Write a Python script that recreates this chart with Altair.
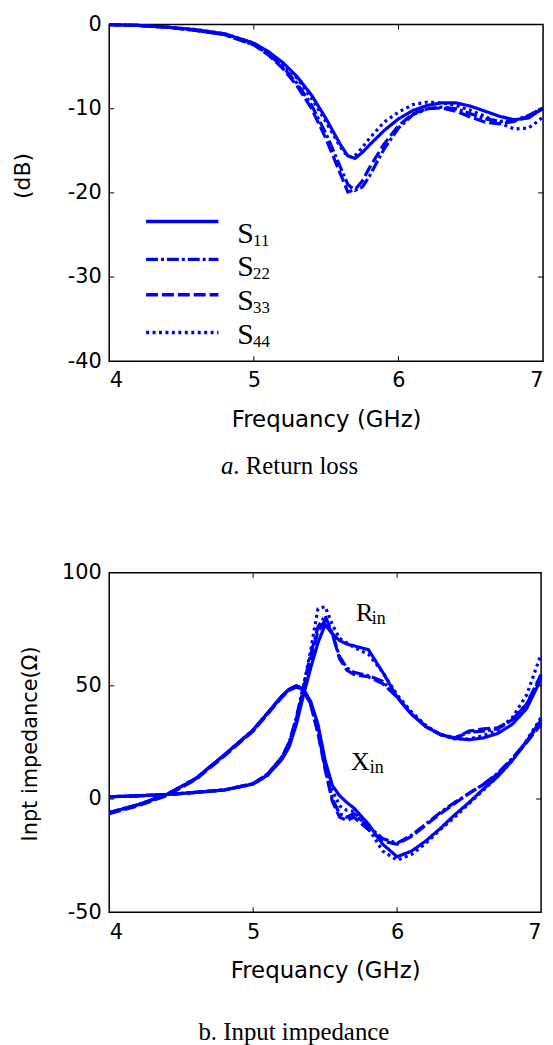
import altair as alt
import pandas as pd

# ---------------- data: return loss (dB) ----------------
freq_rl = [4.0, 4.2, 4.4, 4.6, 4.8, 5.0, 5.1, 5.2, 5.3, 5.4, 5.5, 5.6, 5.65, 5.7,
           5.75, 5.8, 5.9, 6.0, 6.1, 6.2, 6.3, 6.4, 6.5, 6.6, 6.7, 6.8, 6.9, 7.0]
s11 = [0, -0.1, -0.3, -0.6, -1.1, -2.2, -3.2, -4.5, -6.2, -8.4, -11.2, -14.3, -15.6, -15.9,
       -15.2, -14.3, -12.6, -11.2, -10.2, -9.6, -9.3, -9.3, -9.7, -10.3, -10.9, -11.3, -11.1, -9.9]
s22 = [0, -0.1, -0.3, -0.7, -1.2, -2.4, -3.5, -5.0, -7.0, -9.6, -13.0, -17.0, -19.0, -19.7,
       -19.3, -18.0, -14.8, -12.3, -10.7, -10.0, -9.8, -10.0, -10.6, -11.2, -11.5, -11.4, -10.8, -9.9]
s33 = [0, -0.1, -0.3, -0.7, -1.2, -2.4, -3.6, -5.2, -7.3, -10.0, -13.6, -17.8, -19.9, -19.6,
       -18.6, -17.0, -14.2, -12.0, -10.6, -10.0, -9.9, -10.3, -11.0, -11.6, -11.8, -11.5, -10.9, -10.0]
s44 = [0, -0.1, -0.3, -0.6, -1.1, -2.2, -3.3, -4.7, -6.4, -8.8, -11.6, -14.6, -15.7, -15.6,
       -14.6, -13.5, -11.6, -10.4, -9.5, -9.2, -9.3, -9.6, -10.2, -10.9, -11.7, -12.4, -12.3, -11.0]

# ---------------- data: input impedance (ohm) ----------------
freq_z = [4.0, 4.2, 4.4, 4.6, 4.8, 5.0, 5.1, 5.2, 5.25, 5.3, 5.35, 5.4, 5.45, 5.5, 5.55, 5.6,
          5.65, 5.7, 5.8, 5.9, 6.0, 6.1, 6.2, 6.3, 6.4, 6.5, 6.6, 6.7, 6.8, 6.9, 7.0]
r11 = [1.0, 1.4, 2.0, 2.9, 4.0, 6.6, 10.5, 17.5, 23, 33, 46, 58, 69, 77, 73, 70,
       68.5, 67.7, 66, 56, 45, 37.5, 32, 28.5, 26.8, 26.2, 27.0, 29.0, 33, 40, 53]
r22 = [1.0, 1.4, 2.0, 2.9, 4.0, 6.8, 11, 18.5, 25, 36, 50, 64, 76, 81, 73, 63,
       58, 56, 54.5, 52, 45, 37.5, 32, 28.5, 27, 29.5, 30, 31, 35, 42, 54]
r33 = [1.0, 1.4, 2.0, 2.9, 4.0, 6.8, 11, 18.5, 25, 35, 49, 62, 74, 79, 73, 62,
       57, 55, 54, 51, 45, 37.5, 32, 28.5, 27, 30, 31, 31.5, 35, 42, 55]
r44 = [1.0, 1.4, 2.0, 2.9, 4.0, 6.6, 10.5, 18, 24.5, 35, 50, 66, 84, 85, 77, 71,
       69, 67, 64, 56, 46, 38.5, 32.5, 28.5, 26.5, 26.5, 28, 30.5, 36, 46, 64]
x11 = [-6, -2.5, 2, 9, 19.5, 30.5, 38, 45.5, 48.5, 50, 48.5, 43, 33, 17, 6, 1.5,
       -1.5, -4, -11, -20, -25.5, -23, -18.5, -13, -7, -1.5, 4.5, 10, 17, 25.5, 35]
x22 = [-6, -2.5, 2, 9, 19.5, 30.5, 38, 45.5, 48.5, 50, 48, 42, 30, 14, 0, -6.5,
       -8, -6.5, -12, -17.5, -19.5, -16, -11, -6, -1.5, 2.5, 6.5, 11.5, 18, 25.5, 34]
x33 = [-6.5, -3, 1.5, 8.5, 19, 30, 37.5, 45, 48, 49.5, 48, 41.5, 29, 13, -1, -8,
       -9.5, -8, -13.5, -18.5, -20, -16.5, -11.5, -6.5, -2, 2.5, 6.5, 11, 17.5, 25, 33]
x44 = [-6, -2.5, 2, 9, 19.5, 30.5, 38, 45.5, 48.5, 50, 48.5, 42.5, 32, 16, 4, -3,
       -5, -5.5, -13, -23, -27, -24.5, -19.5, -13.5, -8, -2, 4, 10, 17, 26, 36]

ports = ["S11", "S22", "S33", "S44"]
legend_main = ["S", "S", "S", "S"]
legend_sub = ["11", "22", "33", "44"]
legend_line_y = [-23.4, -27.9, -32.1, -36.6]
legend_text_y = [-26.0, -29.9, -33.9, -38.0]
legend_x = [4.255, 4.755, 4.885]   # line start, line end, text start

z_label_main = ["R", "X"]
z_label_sub = ["in", "in"]
z_label_f = [5.714, 5.679]
z_label_v = [78.8, 12.8]

rl_xticks = [4, 5, 6, 7]
rl_yticks = [-40, -30, -20, -10, 0]
z_yticks = [-50, 0, 50, 100]
captions = ["a", ". Return loss", "b. Input impedance"]

BLUE = "#0000ff"
dash_styles = [[1, 0], [12, 3, 3, 3], [12, 4], [3, 3.5]]
dash_scale = alt.Scale(domain=ports, range=dash_styles)
SANS = "DejaVu Sans"
SERIF = "Liberation Serif"

W1, H1 = 437, 339
W2, H2 = 435, 342
TICK = 5

# ---------------- build tables ----------------
rl_rows = []
for name, vals in zip(ports, [s11, s22, s33, s44]):
    for f, v in zip(freq_rl, vals):
        rl_rows.append({"f": f, "v": v, "port": name})
rl_df = pd.DataFrame(rl_rows)

z_rows = []
for name, rv, xv in zip(ports, [r11, r22, r33, r44], [x11, x22, x33, x44]):
    for f, v in zip(freq_z, rv):
        z_rows.append({"f": f, "v": v, "port": name, "curve": name + "R"})
    for f, v in zip(freq_z, xv):
        z_rows.append({"f": f, "v": v, "port": name, "curve": name + "X"})
z_df = pd.DataFrame(z_rows)

leg_df = pd.DataFrame({
    "port": ports, "f": [legend_x[0]] * 4, "f2": [legend_x[1]] * 4,
    "v": legend_line_y,
})
leg_txt = pd.DataFrame({
    "f": [legend_x[2]] * 4, "v": legend_text_y, "main": legend_main, "sub": legend_sub,
})
zl_df = pd.DataFrame({"f": z_label_f, "v": z_label_v, "main": z_label_main, "sub": z_label_sub})

LABEL_EXPR = "'' + datum.value"


def panel(df, ydom, yvals, ytitle, ytitle_x, ytitle_y, ytitle_size, W, H, detail=None):
    xs = alt.Scale(domain=[4, 7], nice=False)
    ys = alt.Scale(domain=ydom, nice=False, zero=False)
    xax = alt.Axis(values=rl_xticks, labelExpr=LABEL_EXPR, title="Frequancy (GHz)",
                   labelPadding=9, titleY=48, titleFontSize=23)
    yax = alt.Axis(values=yvals, labelExpr=LABEL_EXPR, title=ytitle, labelPadding=8,
                   titleX=ytitle_x, titleY=ytitle_y, titleFontSize=ytitle_size,
                   titleAlign="center")
    enc = dict(
        x=alt.X("f:Q", scale=xs, axis=xax),
        y=alt.Y("v:Q", scale=ys, axis=yax),
        strokeDash=alt.StrokeDash("port:N", scale=dash_scale, legend=None),
    )
    if detail:
        enc["detail"] = alt.Detail(detail + ":N")
    lines = alt.Chart(df).mark_line(color=BLUE, strokeWidth=3.2).encode(**enc)

    xt = pd.DataFrame({"f": rl_xticks[1:-1]})
    yt = pd.DataFrame({"v": yvals[1:-1]})
    tick_b = alt.Chart(xt).mark_rule(color="black", strokeWidth=1).encode(
        x=alt.X("f:Q", scale=xs), y=alt.value(H), y2=alt.value(H - TICK))
    tick_t = alt.Chart(xt).mark_rule(color="black", strokeWidth=1).encode(
        x=alt.X("f:Q", scale=xs), y=alt.value(0), y2=alt.value(TICK))
    tick_l = alt.Chart(yt).mark_rule(color="black", strokeWidth=1).encode(
        y=alt.Y("v:Q", scale=ys), x=alt.value(0), x2=alt.value(TICK))
    tick_r = alt.Chart(yt).mark_rule(color="black", strokeWidth=1).encode(
        y=alt.Y("v:Q", scale=ys), x=alt.value(W), x2=alt.value(W - TICK))
    return lines, [tick_b, tick_t, tick_l, tick_r], xs, ys


# ---------------- top panel ----------------
lines1, ticks1, xs1, ys1 = panel(rl_df, [-40, 0], rl_yticks, "(dB)", -75, 152, 22, W1, H1)
leg_lines = alt.Chart(leg_df).mark_rule(color=BLUE, strokeWidth=3.5).encode(
    x=alt.X("f:Q", scale=xs1), x2="f2:Q", y=alt.Y("v:Q", scale=ys1),
    strokeDash=alt.StrokeDash("port:N", scale=dash_scale, legend=None))
leg_main = alt.Chart(leg_txt).mark_text(font=SERIF, fontSize=30, align="left",
                                         baseline="alphabetic", color="black").encode(
    x=alt.X("f:Q", scale=xs1), y=alt.Y("v:Q", scale=ys1), text="main:N")
leg_sub = alt.Chart(leg_txt).mark_text(font=SERIF, fontSize=17, align="left",
                                        baseline="alphabetic", color="black",
                                        dx=16, dy=3).encode(
    x=alt.X("f:Q", scale=xs1), y=alt.Y("v:Q", scale=ys1), text="sub:N")
cap_a1 = alt.Chart(pd.DataFrame({"t": [captions[0]]})).mark_text(
    font=SERIF, fontSize=25, fontStyle="italic", align="right", baseline="alphabetic",
    color="black").encode(x=alt.value(125), y=alt.value(453), text="t:N")
cap_a2 = alt.Chart(pd.DataFrame({"t": [captions[1]]})).mark_text(
    font=SERIF, fontSize=25, align="left", baseline="alphabetic",
    color="black").encode(x=alt.value(125), y=alt.value(453), text="t:N")

top = alt.layer(lines1, leg_lines, leg_main, leg_sub, *ticks1, cap_a1, cap_a2).properties(
    width=W1, height=H1)

# ---------------- bottom panel ----------------
lines2, ticks2, xs2, ys2 = panel(z_df, [-50, 100], z_yticks, "Inpt impedance(Ω)", -69, 172, 21,
                                 W2, H2, detail="curve")
zl_main = alt.Chart(zl_df).mark_text(font=SERIF, fontSize=26, align="left",
                                      baseline="alphabetic", color="black").encode(
    x=alt.X("f:Q", scale=xs2), y=alt.Y("v:Q", scale=ys2), text="main:N")
zl_sub_r = alt.Chart(zl_df).transform_filter(alt.datum.main == "R").mark_text(
    font=SERIF, fontSize=18, align="left", baseline="alphabetic", color="black",
    dx=16, dy=3).encode(
    x=alt.X("f:Q", scale=xs2), y=alt.Y("v:Q", scale=ys2), text="sub:N")
zl_sub_x = alt.Chart(zl_df).transform_filter(alt.datum.main == "X").mark_text(
    font=SERIF, fontSize=18, align="left", baseline="alphabetic", color="black",
    dx=19, dy=3).encode(
    x=alt.X("f:Q", scale=xs2), y=alt.Y("v:Q", scale=ys2), text="sub:N")
cap_b = alt.Chart(pd.DataFrame({"t": [captions[2]]})).mark_text(
    font=SERIF, fontSize=25, align="center", baseline="alphabetic",
    color="black").encode(x=alt.value(186), y=alt.value(471), text="t:N")

bottom = alt.layer(lines2, zl_main, zl_sub_r, zl_sub_x, *ticks2, cap_b).properties(
    width=W2, height=H2)

chart = alt.vconcat(top, bottom, spacing=81).properties(
    padding={"left": 11, "top": 9, "right": 2, "bottom": 0},
    background="white",
).configure_view(stroke="black", strokeWidth=1.5).configure_axis(
    labelFont=SANS, labelFontSize=21, labelColor="black",
    titleFont=SANS, titleFontWeight="normal", titleColor="black",
    grid=False, ticks=False, domain=False,
)

chart.save("out.html", embed_options={"renderer": "svg", "actions": False})
